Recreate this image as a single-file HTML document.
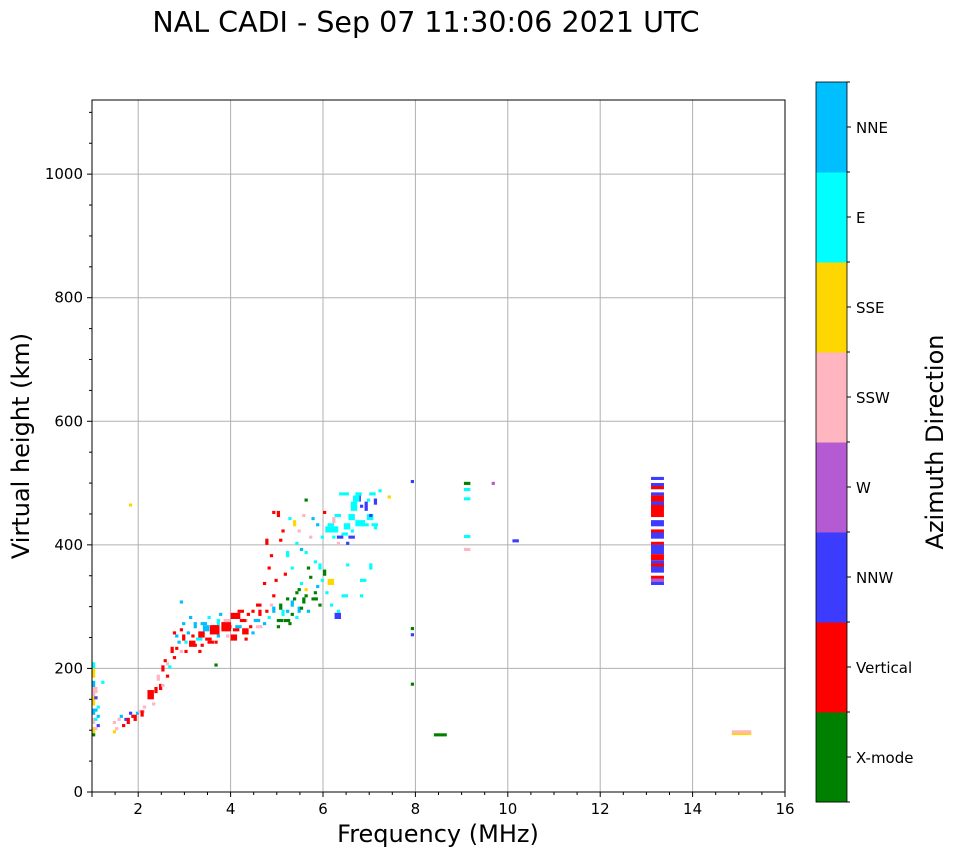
<!DOCTYPE html>
<html><head><meta charset="utf-8"><style>
body{margin:0;background:#fff;font-family:"Liberation Sans",sans-serif}
svg text{font-family:"DejaVu Sans","Liberation Sans",sans-serif}
</style></head><body>
<svg id="chart" width="958" height="857" xmlns="http://www.w3.org/2000/svg">
<text x="426" y="32" font-size="28.5" text-anchor="middle">NAL CADI - Sep 07 11:30:06 2021 UTC</text>
<g id="grid"></g><g id="marks"></g><g id="axes"></g><g id="cbar"></g>
<text x="438" y="842" font-size="24" text-anchor="middle">Frequency (MHz)</text>
<text transform="translate(29,446) rotate(-90)" font-size="24" text-anchor="middle">Virtual height (km)</text>
<text transform="translate(943,442) rotate(-90)" font-size="24" text-anchor="middle">Azimuth Direction</text>
</svg>
<script>
const categories=["X-mode","Vertical","NNW","W","SSW","SSE","E","NNE"];
const categoryColors=["#008000","#ff0000","#3c3cff","#b45ad2","#ffb6c1","#ffd700","#00ffff","#00bfff"];
const xTicks=[2,4,6,8,10,12,14,16];
const yTicks=[0,200,400,600,800,1000];
// echoes: [freqMHz, heightKm, categoryIndex, widthCells, heightCells]
const echoes=[
[1.0,200,6,1,2],[1.0,185,5,1,3],[1.0,170,7,1,2],[1.0,155,4,1,3],[1.0,140,5,1,3],[1.0,125,7,1,2],[1.0,110,4,1,2],[1.0,95,5,1,2],[1.05,150,2,1,1],[1.05,130,7,1,1],[1.05,115,6,1,1],[1.05,100,4,1,1],[1.1,120,7,1,1],[1.1,105,2,1,1],[1.2,175,6,1,1],[1.05,160,4,1,2],[1.1,135,6,1,1],[1.0,90,0,1,1],
[1.45,110,4,1,1],[1.45,95,5,1,1],[1.55,115,4,1,1],[1.6,120,7,1,1],[1.7,115,2,1,1],[1.75,110,1,1,2],[1.85,120,1,1,1],[1.9,115,1,1,2],[1.95,125,7,1,1],[2.0,128,4,2,1],[2.05,122,1,1,2],[2.1,135,4,1,1],[1.65,105,1,1,1],[1.8,125,2,1,1],[1.5,100,4,1,1],
[2.2,150,1,2,3],[2.3,140,4,1,1],[2.35,160,1,1,2],[2.4,180,4,1,2],[2.45,165,1,1,2],[2.5,195,1,1,2],[2.55,210,1,1,1],[2.5,170,4,1,1],[2.6,205,4,1,1],[2.7,225,1,1,2],[2.75,215,1,1,1],[2.8,250,7,1,1],[2.8,230,1,1,1],[2.9,260,1,1,1],[2.95,245,1,1,2],[2.9,225,4,1,1],[3.0,240,6,1,1],[3.05,255,7,1,1],[3.1,235,1,2,2],[3.2,265,7,1,2],
[2.6,185,1,1,1],[2.65,200,6,1,1],[2.85,240,7,1,1],[3.0,225,1,1,1],[3.15,250,1,1,1],[3.25,245,6,2,1],[2.75,255,1,1,1],[2.95,270,7,1,1],[3.1,280,7,1,1],[2.9,305,7,1,1],
[3.3,250,1,2,2],[3.35,235,1,1,1],[3.4,260,7,2,2],[3.5,280,6,1,1],[3.55,255,1,3,3],[3.65,240,1,1,1],[3.7,270,6,1,2],[3.75,285,7,1,1],[3.8,260,1,3,3],[3.9,250,4,1,1],[4.0,280,1,3,2],[4.0,245,1,2,2],[4.1,265,7,2,1],[4.15,290,1,2,1],[4.25,255,1,2,2],[4.3,275,4,1,1],[4.4,265,1,1,1],[4.45,290,1,1,1],[4.5,275,7,2,1],[4.55,300,1,1,1],[4.6,285,1,1,2],[4.7,270,7,1,1],
[3.35,270,7,2,1],[3.45,245,1,2,1],[3.6,265,1,2,1],[3.7,250,7,1,1],[3.85,275,4,2,1],[3.95,265,1,1,1],[4.05,260,1,2,1],[4.2,275,1,2,1],[4.35,285,1,1,1],[4.45,255,7,1,1],[4.55,265,4,2,1],[4.3,245,1,1,1],[3.5,240,1,2,1],[3.3,225,1,1,1],[3.2,235,1,1,1],[4.6,300,1,1,1],[4.75,290,1,1,1],
[4.8,280,6,1,1],[4.85,300,4,1,1],[4.9,290,7,1,2],[5.0,275,0,2,1],[5.05,295,0,1,2],[5.1,285,6,1,2],[5.2,310,0,1,1],[5.25,270,0,1,1],[5.3,300,7,1,2],[5.4,320,0,1,1],[5.45,290,7,1,2],[5.5,335,6,1,1],[5.55,305,0,1,2],[5.6,325,5,1,1],[5.7,345,0,1,1],[5.75,310,0,2,1],[5.85,330,7,1,1],[5.9,300,0,1,1],[6.0,350,0,1,2],[6.05,320,6,1,1],[6.1,335,5,2,2],[6.25,280,2,2,2],[6.4,315,6,2,1],
[5.0,265,0,1,1],[5.15,275,0,2,1],[5.3,285,0,1,1],[5.35,310,0,1,1],[5.45,325,0,1,1],[5.5,295,0,1,1],[5.6,315,0,1,1],[5.65,290,7,1,1],[5.8,320,0,1,1],[5.95,340,6,1,1],[5.2,290,7,1,1],[5.4,280,6,1,1],[5.65,360,0,1,1],[5.9,360,6,1,2],[6.15,300,6,1,1],[6.3,290,6,1,1],
[4.75,400,1,1,2],[4.8,360,1,1,1],[4.9,450,1,1,1],[5.0,445,1,1,2],[5.1,420,1,1,1],[5.2,380,6,1,2],[5.35,430,5,1,2],[5.4,400,6,1,1],[5.5,390,7,1,1],[5.55,445,4,1,1],[5.6,470,0,1,1],[5.7,410,4,1,1],[5.8,370,6,1,1],[5.85,430,7,1,1],[5.95,410,6,1,1],[6.0,450,1,1,1],
[4.85,380,1,1,1],[4.95,340,1,1,1],[4.7,335,1,1,1],[5.05,405,1,1,1],[4.9,315,1,1,1],[5.15,350,1,1,1],[5.25,440,6,1,1],[5.45,420,4,1,1],[5.3,360,6,1,1],[5.6,385,6,1,1],[5.75,440,7,1,1],
[6.05,420,6,4,2],[6.2,435,4,1,2],[6.3,410,2,2,1],[6.35,480,6,3,1],[6.45,425,6,2,2],[6.6,455,6,2,3],[6.7,430,6,3,2],[6.75,470,2,1,2],[6.9,455,2,1,3],[6.95,440,6,2,2],[7.0,480,6,2,1],[7.1,465,2,1,2],[7.1,425,6,1,1],[7.2,485,6,1,1],[7.4,475,5,1,1],[6.5,400,2,1,1],[6.8,340,6,2,1],[7.0,360,6,1,2],[6.8,315,6,1,1],[6.5,365,6,1,1],
[6.1,430,6,2,1],[6.25,445,6,2,1],[6.55,440,6,2,2],[6.65,470,6,2,2],[6.8,460,2,1,1],[6.85,430,6,2,1],[7.0,445,2,1,1],[6.4,415,6,2,1],[6.2,410,6,1,1],[6.55,410,2,2,1],[6.3,400,4,1,1],[6.95,470,6,1,1],[7.05,430,6,2,1],[6.7,480,6,2,1],[6.6,420,6,1,1],
[1.8,462,5,1,1],[3.65,203,0,1,1],[7.9,500,2,1,1],[7.9,262,0,1,1],[7.9,252,2,1,1],[7.9,172,0,1,1],[9.05,497,0,2,1],[9.05,487,6,2,1],[9.05,472,6,2,1],[9.05,411,6,2,1],[9.05,390,4,2,1],[9.65,497,3,1,1],[10.1,404,2,2,1],[8.4,90,0,4,1],[14.85,92,5,6,1],[14.85,95,4,6,1],
[13.1,505,2,4,1],[13.1,490,1,4,2],[13.1,480,2,4,1],[13.1,470,1,4,2],[13.1,460,2,4,2],[13.1,445,1,4,4],[13.1,430,2,4,2],[13.1,420,1,4,1],[13.1,410,2,4,2],[13.1,400,1,4,1],[13.1,385,2,4,3],[13.1,375,1,4,2],[13.1,355,2,4,4],[13.1,345,1,4,1],[13.1,335,2,4,2],[13.1,495,2,4,1],[13.1,465,2,4,1],[13.1,395,2,4,1],[13.1,365,1,4,1],[13.1,340,3,4,1]
];
const NS="http://www.w3.org/2000/svg";
const L=92,R=785,T=100,B=792,X0=1,X1=16,Y0=0,Y1=1120;
const xs=f=>L+(f-X0)/(X1-X0)*(R-L);
const ys=h=>B-(h-Y0)/(Y1-Y0)*(B-T);
function mk(tag,attrs,parent){const e=document.createElementNS(NS,tag);for(const k in attrs)e.setAttribute(k,attrs[k]);parent.appendChild(e);return e;}
const grid=document.getElementById('grid'),marks=document.getElementById('marks'),axes=document.getElementById('axes'),cbar=document.getElementById('cbar');
xTicks.forEach(t=>{const g=mk('line',{x1:xs(t),x2:xs(t),y1:T,y2:B,stroke:'#b0b0b0','stroke-width':1},grid);});
yTicks.forEach(t=>{const g=mk('line',{x1:L,x2:R,y1:ys(t),y2:ys(t),stroke:'#b0b0b0','stroke-width':1},grid);});
const cw=0.07,ch=5;
echoes.forEach(d=>{const w=(d[3]||1)*cw,h=(d[4]||1)*ch;
const r=mk('rect',{x:xs(d[0]),y:ys(d[1]+h),width:xs(d[0]+w)-xs(d[0]),height:ys(d[1])-ys(d[1]+h),fill:categoryColors[d[2]]},marks);

});
const fr=mk('rect',{x:L,y:T,width:R-L,height:B-T,fill:'none',stroke:'#000','stroke-width':1},axes);

[1].concat(xTicks).forEach(t=>{mk('line',{x1:xs(t),x2:xs(t),y1:B,y2:B+5,stroke:'#000'},axes);});
xTicks.forEach(t=>{const tx=mk('text',{x:xs(t),y:B+22,'font-size':15,'text-anchor':'middle'},axes);tx.textContent=t;});
for(let f=1.5;f<16;f+=0.5){if(f%2!==0)mk('line',{x1:xs(f),x2:xs(f),y1:B,y2:B+3,stroke:'#000'},axes);}
yTicks.forEach(t=>{mk('line',{x1:L-5,x2:L,y1:ys(t),y2:ys(t),stroke:'#000'},axes);const tx=mk('text',{x:L-9,y:ys(t)+5,'font-size':15,'text-anchor':'end'},axes);tx.textContent=t;});
for(let h=50;h<1120;h+=50){if(h%200!==0)mk('line',{x1:L-3,x2:L,y1:ys(h),y2:ys(h),stroke:'#000'},axes);}
const CT=82,CB=802,CL=816,CW=31,seg=(CB-CT)/categories.length;
categories.forEach((c,i)=>{const y=CB-(i+1)*seg;
const r=mk('rect',{x:CL,y:y,width:CW,height:seg+0.5,fill:categoryColors[i]},cbar);

mk('line',{x1:CL+CW,x2:CL+CW+4,y1:y+seg/2,y2:y+seg/2,stroke:'#000'},cbar);
const tx=mk('text',{x:CL+CW+9,y:y+seg/2+6,'font-size':15},cbar);tx.textContent=c;
});
for(let i=0;i<=categories.length;i++)mk('line',{x1:CL+CW,x2:CL+CW+3,y1:CT+i*seg,y2:CT+i*seg,stroke:'#000'},cbar);
mk('rect',{x:CL,y:CT,width:CW,height:CB-CT,fill:'none',stroke:'#000','stroke-width':0.8},cbar);
</script>
</body></html>
